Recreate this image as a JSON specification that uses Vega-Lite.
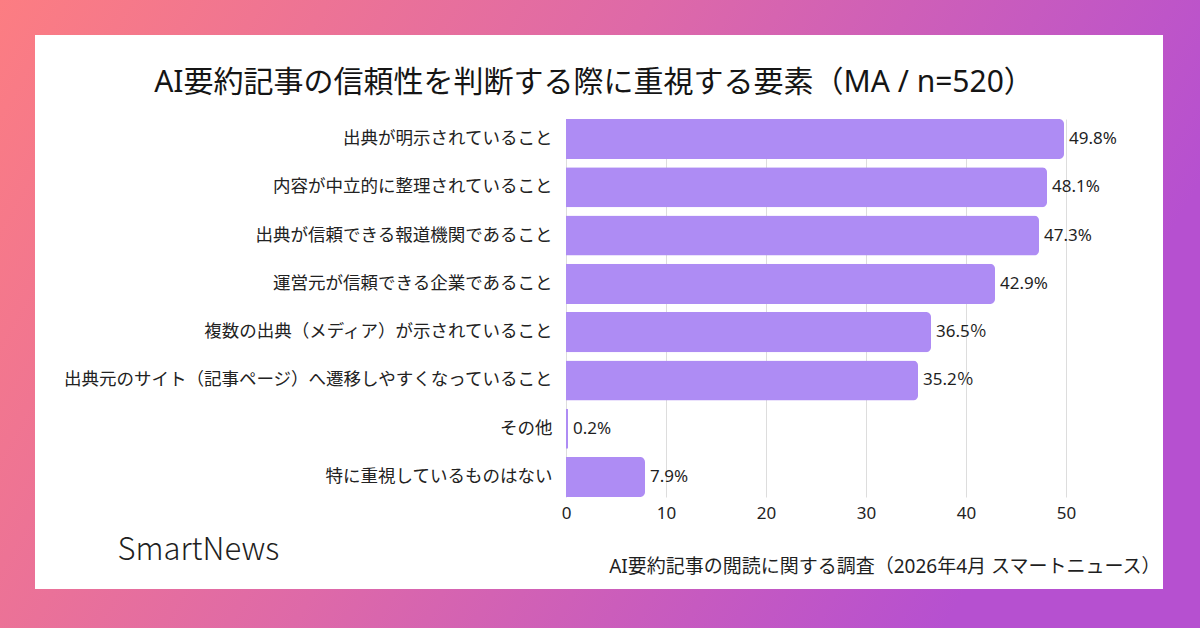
{
  "$schema": "https://vega.github.io/schema/vega-lite/v6.json",
  "width": 1198,
  "height": 624,
  "autosize": {"type": "none"},
  "padding": {"left": 0, "top": 0, "right": 2, "bottom": 4},
  "background": "#d865ab",
  "title": {
    "text": "AI要約記事の信頼性を判断する際に重視する要素（MA / n=520）",
    "font": "Noto Sans, Noto Sans CJK JP",
    "fontSize": 30,
    "fontWeight": "normal",
    "color": "#151515",
    "anchor": "middle",
    "frame": "group",
    "orient": "top",
    "offset": -98,
    "dx": -5
  },
  "data": {
    "values": [
      {"item": "出典が明示されていること", "value": 49.8, "label": "49.8%"},
      {"item": "内容が中立的に整理されていること", "value": 48.1, "label": "48.1%"},
      {"item": "出典が信頼できる報道機関であること", "value": 47.3, "label": "47.3%"},
      {"item": "運営元が信頼できる企業であること", "value": 42.9, "label": "42.9%"},
      {"item": "複数の出典（メディア）が示されていること", "value": 36.5, "label": "36.5％"},
      {"item": "出典元のサイト（記事ページ）へ遷移しやすくなっていること", "value": 35.2, "label": "35.2％"},
      {"item": "その他", "value": 0.2, "label": "0.2%"},
      {"item": "特に重視しているものはない", "value": 7.9, "label": "7.9%"}
    ]
  },
  "encoding": {
    "y": {
      "field": "item",
      "type": "nominal",
      "sort": null,
      "scale": {"range": [119, 497], "paddingInner": 0.17, "paddingOuter": 0},
      "axis": {
        "orient": "left",
        "offset": -566,
        "domain": false,
        "ticks": false,
        "tickSize": 0,
        "grid": false,
        "labelPadding": 14,
        "labelLimit": 700,
        "labelFont": "Noto Sans CJK JP",
        "labelFontSize": 17.5,
        "labelColor": "#222222",
        "labelBaseline": "middle",
        "title": "SmartNews",
        "titleAngle": 0,
        "titleX": -449,
        "titleY": 550,
        "titleAlign": "left",
        "titleBaseline": "middle",
        "titleFont": "Noto Sans CJK JP",
        "titleFontSize": 31,
        "titleFontWeight": 300,
        "titleColor": "#1f1f1f"
      }
    },
    "x": {
      "field": "value",
      "type": "quantitative",
      "scale": {"domain": [0, 50], "range": [566, 1066], "nice": false, "zero": true},
      "axis": {
        "orient": "top",
        "offset": -530,
        "values": [0, 10, 20, 30, 40, 50],
        "domain": false,
        "ticks": false,
        "tickSize": 0,
        "grid": true,
        "gridColor": "#dddddd",
        "gridWidth": 1,
        "labelFlush": false,
        "labelPadding": 17,
        "labelBaseline": "middle",
        "labelAlign": "center",
        "labelFont": "Noto Sans",
        "labelFontSize": 17,
        "labelColor": "#222222",
        "title": "AI要約記事の閲読に関する調査（2026年4月 スマートニュース）",
        "titleX": 1160,
        "titleY": 36,
        "titleAlign": "right",
        "titleBaseline": "middle",
        "titleAnchor": "end",
        "titleFont": "Noto Sans, Noto Sans CJK JP",
        "titleFontSize": 19,
        "titleFontWeight": "normal",
        "titleColor": "#1f1f1f"
      }
    }
  },
  "layer": [
    {
      "mark": {"type": "bar", "color": "#ae8cf4", "cornerRadiusEnd": 5}
    },
    {
      "mark": {
        "type": "text",
        "align": "left",
        "baseline": "middle",
        "dx": 5,
        "font": "Noto Sans, Noto Sans CJK JP",
        "fontSize": 17,
        "color": "#1f1f1f"
      },
      "encoding": {"text": {"field": "label", "type": "nominal"}}
    }
  ],
  "config": {
    "view": {
      "fill": "#ffffff",
      "strokeWidth": 70,
      "stroke": {
        "gradient": "linear",
        "x1": 0, "y1": 0, "x2": 1, "y2": 0.3,
        "stops": [
          {"offset": 0, "color": "#fc7d82"},
          {"offset": 0.5, "color": "#de69a8"},
          {"offset": 1, "color": "#b650d0"}
        ]
      }
    }
  }
}
